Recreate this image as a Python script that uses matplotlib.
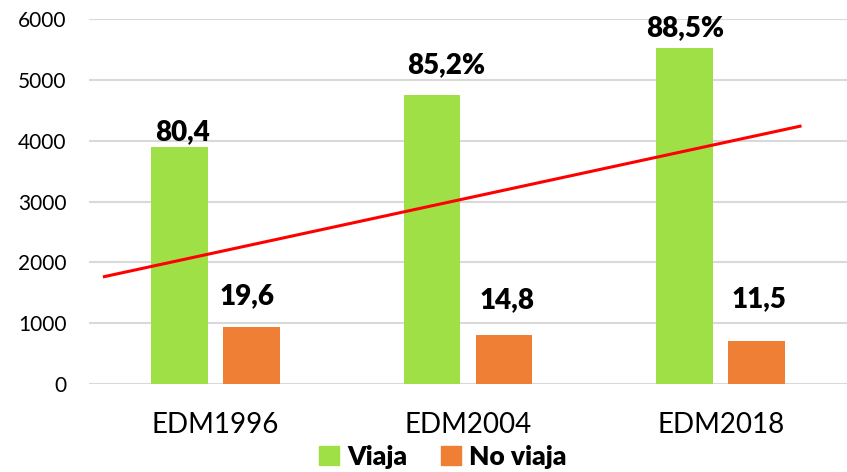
import matplotlib
matplotlib.use("Agg")
import matplotlib.pyplot as plt
import numpy as np
from matplotlib.patches import Patch

categories = ["EDM1996", "EDM2004", "EDM2018"]
viaja = [3900, 4750, 5530]
no_viaja = [940, 810, 710]
viaja_labels = ["80,4", "85,2%", "88,5%"]
no_viaja_labels = ["19,6", "14,8", "11,5"]
trend_x = [-0.445, 2.32]
trend_y = [1760, 4243]
yticks = [0, 1000, 2000, 3000, 4000, 5000, 6000]

green = "#9FE046"
orange = "#EE7F34"

plt.rcParams['font.family'] = ['Lato', 'DejaVu Sans']

fig = plt.figure(figsize=(8.47, 4.72), dpi=100)
ax = fig.add_axes([89/847, 88/472, 758/847, 365/472])

x = np.arange(len(categories))
w = 0.225
off = 0.1425
ax.bar(x - off, viaja, w, color=green, zorder=3, label="Viaja")
ax.bar(x + off, no_viaja, w, color=orange, zorder=3, label="No viaja")

ax.plot(trend_x, trend_y, color="#FF0000", lw=2.2, zorder=4, solid_capstyle='butt')

# label offsets in points (style only)
v_off = [(2.5, 5), (10, 16), (0.7, 8)]
n_off = [(-3, 16), (2, 19.5), (2, 24.5)]
for i, (v, lab) in enumerate(zip(viaja, viaja_labels)):
    ax.annotate(lab, (x[i] - off, v), xytext=v_off[i], textcoords='offset points',
                ha='center', va='baseline', fontsize=20, fontweight='heavy', color='black', zorder=5)
for i, (v, lab) in enumerate(zip(no_viaja, no_viaja_labels)):
    ax.annotate(lab, (x[i] + off, v), xytext=n_off[i], textcoords='offset points',
                ha='center', va='baseline', fontsize=20, fontweight='heavy', color='black', zorder=5)

ax.set_xlim(-0.5, 2.5)
ax.set_ylim(0, 6000)
ax.set_yticks(yticks)
ax.set_yticklabels([str(t) for t in yticks], fontsize=15)
ax.set_xticks(x)
ax.set_xticklabels(categories, fontsize=20)
ax.tick_params(axis='y', length=0, pad=16)
ax.tick_params(axis='x', length=0, pad=20)
ax.grid(axis='y', color='#D9D9D9', lw=1.5, zorder=0)
for s in ax.spines.values():
    s.set_visible(False)

handles = [Patch(color=green, label="Viaja"), Patch(color=orange, label="No viaja")]
fig.legend(handles=handles, loc='center', bbox_to_anchor=(443/847, 1 - 457/472), ncol=2,
           frameon=False, prop={'weight': 'heavy', 'size': 19}, handlelength=0.75, handleheight=0.75,
           handletextpad=0.3, columnspacing=1.3, borderpad=0)

fig.savefig("out.png", dpi=100)
